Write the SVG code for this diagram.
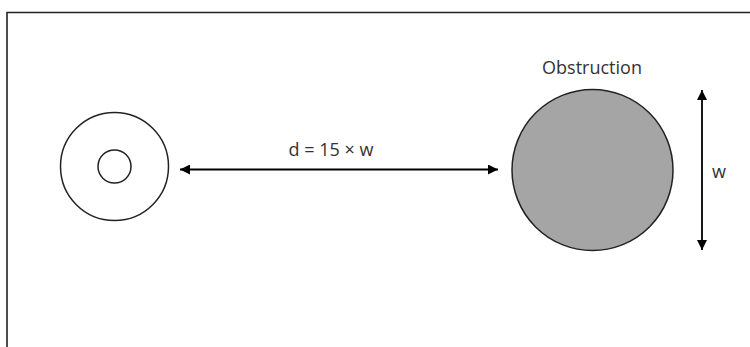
<svg xmlns="http://www.w3.org/2000/svg" width="750" height="347" viewBox="0 0 750 347">
<defs>
<marker id="ah" viewBox="0 0 10 10" refX="10" refY="5" markerWidth="10" markerHeight="10" markerUnits="userSpaceOnUse" orient="auto-start-reverse">
<path d="M0,0 L10,5 L0,10 z" fill="#000"/>
</marker>
</defs>
<style>
.ln{stroke:#000;stroke-width:1.8;fill:none}
.t{font-family:"Open Sans","Liberation Sans",sans-serif;font-size:18px;fill:#333}
</style>
<rect width="750" height="347" fill="#fff"/>
<path d="M7,350 V12.5 H760" stroke="#222" stroke-width="1.6" fill="none"/>
<g id="source">
<circle cx="114.5" cy="166.5" r="54" fill="#fff" stroke="#222" stroke-width="1.5"/>
<circle cx="114.5" cy="166.5" r="16.5" fill="#fff" stroke="#222" stroke-width="1.5"/>
</g>
<g id="obstruction">
<circle cx="592.5" cy="170" r="80.5" fill="#a5a5a5" stroke="#222" stroke-width="1.5"/>
<text class="t" x="592" y="74" text-anchor="middle">Obstruction</text>
</g>
<g id="connectors">
<line class="ln" x1="180" y1="169.5" x2="498" y2="169.5" marker-start="url(#ah)" marker-end="url(#ah)"/>
<text class="t" x="331" y="156" text-anchor="middle">d = 15 × w</text>
<line class="ln" x1="702" y1="90" x2="702" y2="250" marker-start="url(#ah)" marker-end="url(#ah)"/>
<text class="t" x="719" y="178" text-anchor="middle">w</text>
</g>
</svg>
